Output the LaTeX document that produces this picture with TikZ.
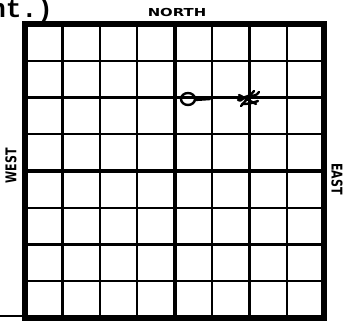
\documentclass[tikz,border=0pt]{standalone}
\usepackage{fontspec}
\newfontfamily\labelfont{DejaVu Sans}
\newfontfamily\typefont{Liberation Mono}
\tikzset{
  compass/.style={font=\labelfont\bfseries\fontsize{11}{11}\selectfont,inner sep=0pt,xscale=1.35},
  gridline/.style={line width=2.2pt},
  axisline/.style={line width=3.8pt},
  frameline/.style={line width=5.2pt,line cap=rect},
  pen/.style={line width=2.4pt,line cap=round,line join=round}
}
\begin{document}
\begin{tikzpicture}[x=1pt,y=-1pt]
  \clip(0,0)rectangle(346,325);
  \fill[white](0,0)rectangle(346,325);
  % grid cells
  \foreach \i in {1,2,3,5,6,7}
  {
    \draw[gridline](25+\i*37.4,24)--(25+\i*37.4,318);
    \draw[gridline](25,24+\i*36.75)--(324,24+\i*36.75);
  }
  \draw[axisline](174.6,24)--(174.6,318);
  \draw[axisline](25,171)--(324,171);
  \draw[frameline](25,24)rectangle(324,318);
  \coordinate(lead)at(0,316);
  \coordinate(corner)at(25,316);
  \draw[line width=1.4pt](lead)--(corner);
  % labels
  \node[compass](north)at(177,12){NORTH};
  \node[compass,rotate=90](west)at(11,166){WEST};
  \node[compass,rotate=-90](east)at(337,179){EAST};
  \node[font=\typefont\bfseries\fontsize{26}{26}\selectfont,anchor=base east,inner sep=0pt](note)at(53,17){nt.)};
  % pencil marks
  \draw[pen](188,99)ellipse(7 and 6);
  \draw[pen](195,100)--(210,99);
  \draw[pen](239,95)--(256,104)(254,91)--(241,106);
  \draw[pen](238,100)to[out=-40,in=180](248,96)to[out=0,in=-120](259,92);
  \draw[pen](242,104)to[out=0,in=200](258,101);
\end{tikzpicture}
\end{document}
